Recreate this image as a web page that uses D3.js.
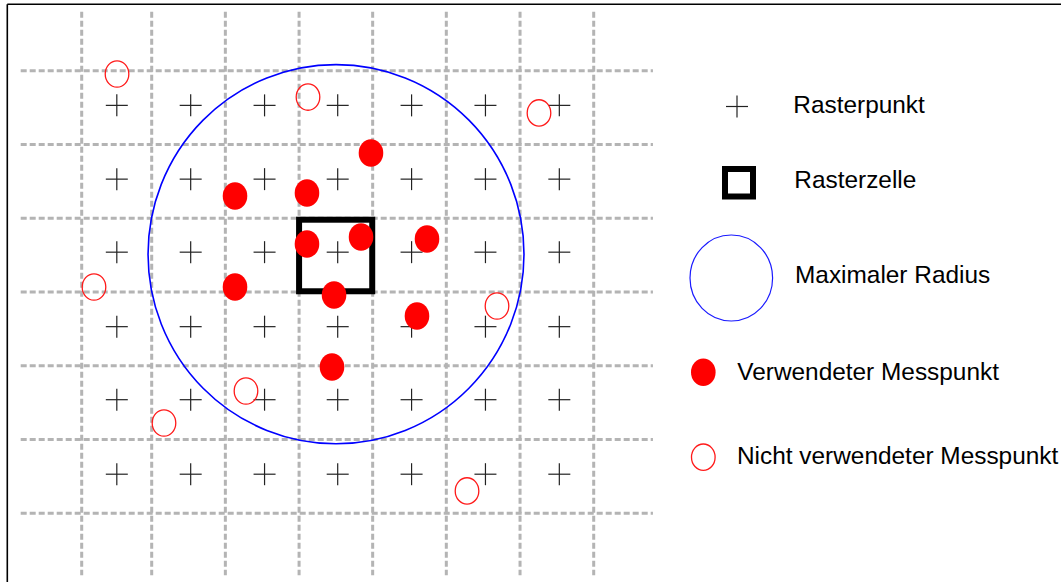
<!DOCTYPE html>
<html>
<head>
<meta charset="utf-8">
<script src="https://cdn.jsdelivr.net/npm/d3@7"></script>
<style>
  html, body { margin: 0; padding: 0; background: #fff; }
  svg { display: block; }
  text { font-family: "Liberation Sans", Arial, sans-serif; }
</style>
</head>
<body>
<svg id="chart" width="1061" height="582"></svg>
<script>
// ---- data (grid units: 1 unit = 1 raster cell) ----
const gridXLines = [0, 0.957, 1.964, 2.972, 3.978, 4.985, 5.993, 7];
const gridYLines = [0, 1, 2, 3, 4, 5, 6];
const rasterX = [0.48, 1.49, 2.50, 3.50, 4.51, 5.52, 6.53];
const rasterY = [0.47, 1.47, 2.46, 3.47, 4.46, 5.47];
const usedX = [3.955, 2.096, 3.080, 3.080, 3.819, 4.721, 2.096, 3.450, 4.584, 3.422];
const usedY = [1.116, 1.699, 1.658, 2.349, 2.254, 2.281, 2.932, 3.041, 3.325, 4.017];
const unusedX = [0.483, 3.094, 6.252, 0.168, 5.678, 2.246, 1.125, 5.268];
const unusedY = [0.045, 0.357, 0.573, 2.932, 3.190, 4.342, 4.776, 5.697];
const cellX = [2.972, 3.972];
const cellY = [2.02, 2.99];
const radiusCenter = [3.477, 2.487];
const maxRadius = 2.57;
const legendLabels = ["Rasterpunkt", "Rasterzelle", "Maximaler Radius", "Verwendeter Messpunkt", "Nicht verwendeter Messpunkt"];

// ---- scales ----
const x = d3.scaleLinear().domain([0, 7]).range([81.7, 593.7]);
const y = d3.scaleLinear().domain([0, 6]).range([70.7, 513.3]);
const ux = x(1) - x(0), uy = y(1) - y(0);

const svg = d3.select("#chart");

// frame (top and left)
svg.append("line").attr("x1", 7.3).attr("x2", 1061).attr("y1", 4.3).attr("y2", 4.3)
  .attr("stroke", "#000").attr("stroke-width", 1.6);
svg.append("line").attr("x1", 7.3).attr("x2", 7.3).attr("y1", 4.3).attr("y2", 582)
  .attr("stroke", "#000").attr("stroke-width", 1.6);

// grid
const grid = svg.append("g").attr("stroke", "#b4b4b4").attr("stroke-width", 3)
  .attr("stroke-dasharray", "6,3").attr("fill", "none");
grid.selectAll("line.v").data(gridXLines).join("line").attr("class", "v")
  .attr("x1", d => x(d)).attr("x2", d => x(d))
  .attr("y1", y(-0.80)).attr("y2", y(6.84));
grid.selectAll("line.h").data(gridYLines).join("line").attr("class", "h")
  .attr("y1", d => y(d)).attr("y2", d => y(d))
  .attr("x1", x(-0.834)).attr("x2", x(7.81));

// raster points (crosses)
const pts = [];
rasterY.forEach(ry => rasterX.forEach(rx => pts.push([rx, ry])));
const cross = (g, cx, cy, s) => {
  g.append("line").attr("x1", cx - s).attr("x2", cx + s).attr("y1", cy).attr("y2", cy);
  g.append("line").attr("x1", cx).attr("x2", cx).attr("y1", cy - s).attr("y2", cy + s);
};
const crosses = svg.append("g").attr("stroke", "#222").attr("stroke-width", 1.2);
pts.forEach(p => cross(crosses, x(p[0]), y(p[1]), 11));

// maximum radius
svg.append("ellipse")
  .attr("cx", x(radiusCenter[0])).attr("cy", y(radiusCenter[1]))
  .attr("rx", maxRadius * ux).attr("ry", maxRadius * uy)
  .attr("fill", "none").attr("stroke", "#0000ff").attr("stroke-width", 1.6);

// raster cell
svg.append("rect")
  .attr("x", x(cellX[0])).attr("y", y(cellY[0]))
  .attr("width", x(cellX[1]) - x(cellX[0])).attr("height", y(cellY[1]) - y(cellY[0]))
  .attr("fill", "none").attr("stroke", "#000").attr("stroke-width", 6);

// unused measurement points
svg.append("g").selectAll("ellipse").data(d3.range(unusedX.length)).join("ellipse")
  .attr("cx", i => x(unusedX[i])).attr("cy", i => y(unusedY[i]))
  .attr("rx", 11.8).attr("ry", 13.2)
  .attr("fill", "none").attr("stroke", "#ff1a1a").attr("stroke-width", 1.3);

// used measurement points
svg.append("g").selectAll("ellipse").data(d3.range(usedX.length)).join("ellipse")
  .attr("cx", i => x(usedX[i])).attr("cy", i => y(usedY[i]))
  .attr("rx", 12.3).attr("ry", 13.7)
  .attr("fill", "#ff0000");

// legend
const lg = svg.append("g");
const lc = lg.append("g").attr("stroke", "#222").attr("stroke-width", 1.2);
cross(lc, 737, 106.5, 11);
lg.append("rect").attr("x", 725).attr("y", 169).attr("width", 28).attr("height", 27.5)
  .attr("fill", "none").attr("stroke", "#000").attr("stroke-width", 6);
lg.append("ellipse").attr("cx", 731.3).attr("cy", 278).attr("rx", 41.3).attr("ry", 43)
  .attr("fill", "none").attr("stroke", "#1a1aff").attr("stroke-width", 1.2);
lg.append("ellipse").attr("cx", 703.3).attr("cy", 372.2).attr("rx", 12.3).attr("ry", 13.8)
  .attr("fill", "#ff0000");
lg.append("ellipse").attr("cx", 703.3).attr("cy", 457.2).attr("rx", 11.8).attr("ry", 13.2)
  .attr("fill", "none").attr("stroke", "#ff1a1a").attr("stroke-width", 1.3);

const labelPos = [[793.3, 113.3], [794.3, 188.3], [795, 283.3], [737.3, 380], [737, 464.3]];
lg.selectAll("text").data(legendLabels).join("text")
  .attr("x", (d, i) => labelPos[i][0]).attr("y", (d, i) => labelPos[i][1])
  .attr("font-size", 24.4).attr("fill", "#000")
  .text(d => d);
</script>
</body>
</html>
